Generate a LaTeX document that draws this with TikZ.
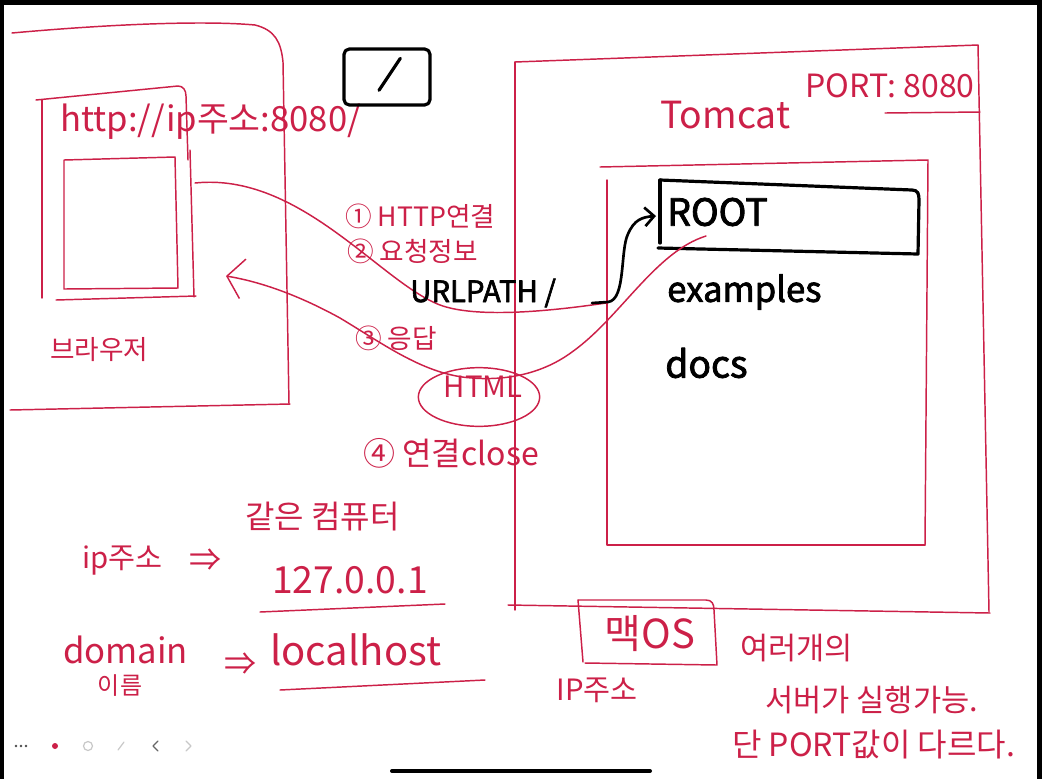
\documentclass[tikz,border=0pt]{standalone}
\usepackage{fontspec}
\setmainfont{Noto Sans CJK KR}
\newfontfamily\heavyhand[FakeBold=2.2]{Noto Sans CJK KR}
\usetikzlibrary{arrows.meta,shapes.geometric}
\definecolor{pen}{RGB}{204,32,72}
\definecolor{uigrey}{RGB}{200,200,200}
\newcommand\myfs[1]{\fontsize{#1}{#1}\selectfont}
\begin{document}
\begin{tikzpicture}[x=0.75pt,y=-0.75pt,line cap=round,line join=round,
  redline/.style={draw=pen,line width=1.1pt},
  blkline/.style={draw=black,line width=2.4pt},
  rtext/.style={text=pen,inner sep=0pt,anchor=west},
  btext/.style={text=black,inner sep=0pt,anchor=west,font=\heavyhand}]
\useasboundingbox (0,0) rectangle (1042,779);
\fill[white] (0,0) rectangle (1042,779);
% screen frame
\fill[black] (0,0) rectangle (1042,5);
\fill[black] (0,0) rectangle (4,779);
\fill[black] (1037,0) rectangle (1042,779);

% ---------- browser ----------
\draw[redline] (12,33) .. controls (100,25) and (200,20) .. (255,25)
   .. controls (275,30) and (281,42) .. (283,62) -- (289,404);
\draw[redline] (10,410) -- (290,404);
\draw[redline] (42,100) -- (42,298);
\draw[redline] (36,100) -- (178,86) .. controls (183,86) and (186,90) .. (186,96) -- (188,160);
\draw[redline] (190,150) -- (194,297);
\draw[redline] (56,300) -- (196,296);
\draw[redline] (64,160) -- (175,157) -- (178,288) -- (64,289) -- cycle;
\node[rtext] (url) at (60,122) {\myfs{26}http://ip주소:8080/};
\node[rtext] (browser) at (50,350) {\myfs{20}브라우저};
\node[draw=black,line width=2.4pt,rounded corners=4pt,minimum width=64.5pt,
      minimum height=42pt,inner sep=0pt] (slashbox) at (387,77) {};
\draw[blkline] ([shift={(-6pt,-10pt)}]slashbox.center) -- ([shift={(10pt,14pt)}]slashbox.center);

% ---------- tomcat ----------
\draw[redline] (515,62) -- (978,45) -- (989,612);
\draw[redline] (515,62) -- (515,610);
\draw[redline] (508,605) -- (990,613);
\node[rtext] (tomcat) at (660,115) {\myfs{28}Tomcat};
\node[rtext] (port) at (805,86) {\myfs{24}PORT: 8080};
\draw[redline] (885,113) -- (980,112);
\draw[redline] (600,167) -- (928,160) -- (925,545);
\draw[redline] (607,180) -- (607,545) -- (925,545);
\draw[blkline] (660,180) -- (912,190) .. controls (918,190) and (919,194) .. (919,200)
   -- (918,254) -- (658,248);
\draw[blkline] (660,180) -- (660,243);
\coordinate (rootin) at (656,216);
\node[btext] (root) at (667,212) {\myfs{28}ROOT};
\node[btext] (examples) at (667,292) {\myfs{26}examples};
\node[btext] (docs) at (665,363) {\myfs{28}docs};

% ---------- request / response ----------
\coordinate (reqstart) at (195,183);
\coordinate (reqend) at (606,303);
\coordinate (urlstart) at (592,303);
\coordinate (respstart) at (706,236);
\coordinate (respend) at (226,276);
\draw[redline] (reqstart) .. controls (300,172) and (380,282) .. (440,305)
   .. controls (475,318) and (545,312) .. (reqend);
\draw[blkline,line width=2pt,-{Straight Barb[length=7pt,width=14pt]}] (urlstart) -- (608,302)
   .. controls (626,300) and (620,250) .. (628,234)
   .. controls (634,220) and (642,217) .. (rootin);
\draw[redline,-{Straight Barb[length=12pt,width=30pt,line width=1.1pt]}] (respstart)
   .. controls (655,252) and (620,318) .. (572,352)
   .. controls (545,372) and (510,381) .. (472,378)
   .. controls (425,375) and (385,345) .. (340,318)
   .. controls (300,296) and (262,282) .. (respend);
\node[draw=pen,line width=1.1pt,ellipse,minimum width=91pt,minimum height=44pt,inner sep=0pt]
   (htmlell) at (479,397) {};
\node[text=pen,inner sep=0pt] (html) at (483,387) {\myfs{22}HTML};
\node[rtext] (s1) at (345,216) {\myfs{20}① HTTP연결};
\node[rtext] (s2) at (347,251) {\myfs{20}② 요청정보};
\node[btext] (urlpath) at (410,293) {\myfs{22}URLPATH /};
\node[rtext] (s3) at (355,338) {\myfs{20}③ 응답};
\node[rtext] (s4) at (363,453) {\myfs{24}④ 연결close};

% ---------- bottom left notes ----------
\node[rtext] (ip) at (82,560) {\myfs{22}ip주소};
\node[text=pen,inner sep=0pt] (arr1) at (205,560) {\myfs{24}⇒};
\node[rtext] (same) at (245,517) {\myfs{24}같은 컴퓨터};
\node[rtext] (lo) at (272,580) {\myfs{28}127.0.0.1};
\draw[redline] (260,612) -- (445,604);
\node[rtext] (domain) at (63,650) {\myfs{26}domain};
\node[text=pen,inner sep=0pt] (name) at (120,686) {\myfs{18}이름};
\node[text=pen,inner sep=0pt] (arr2) at (240,664) {\myfs{24}⇒};
\node[rtext] (localhost) at (270,650) {\myfs{30}localhost};
\draw[redline] (280,690) -- (485,680);

% ---------- bottom right notes ----------
\draw[redline] (578,600) -- (706,600) .. controls (712,600) and (714,604) .. (714,610)
   -- (717,665) -- (585,663);
\draw[redline] (578,600) -- (583,662);
\node[text=pen,inner sep=0pt] (macos) at (650,634) {\myfs{30}맥OS};
\node[text=pen,inner sep=0pt] (ipaddr) at (597,690) {\myfs{22}IP주소};
\node[rtext] (n1) at (740,648) {\myfs{23}여러개의};
\node[rtext] (n2) at (765,700) {\myfs{23}서버가 실행가능.};
\node[rtext] (n3) at (732,745) {\myfs{24}단 PORT값이 다르다.};

% ---------- tablet toolbar ----------
\foreach \xx in {16,21,26} \fill[black!70] (\xx,746) circle (1.3);
\fill[pen] (55,746) circle (3);
\draw[uigrey,line width=0.9pt] (88,746) circle (4.5);
\draw[uigrey,line width=0.9pt] (118,750) -- (124,742);
\draw[black!60,line width=1pt] (158,741) -- (153,746) -- (158,751);
\draw[uigrey,line width=1pt] (186,741) -- (191,746) -- (186,751);
\draw[black,line width=3pt] (392,771) -- (650,771);
\end{tikzpicture}
\end{document}
